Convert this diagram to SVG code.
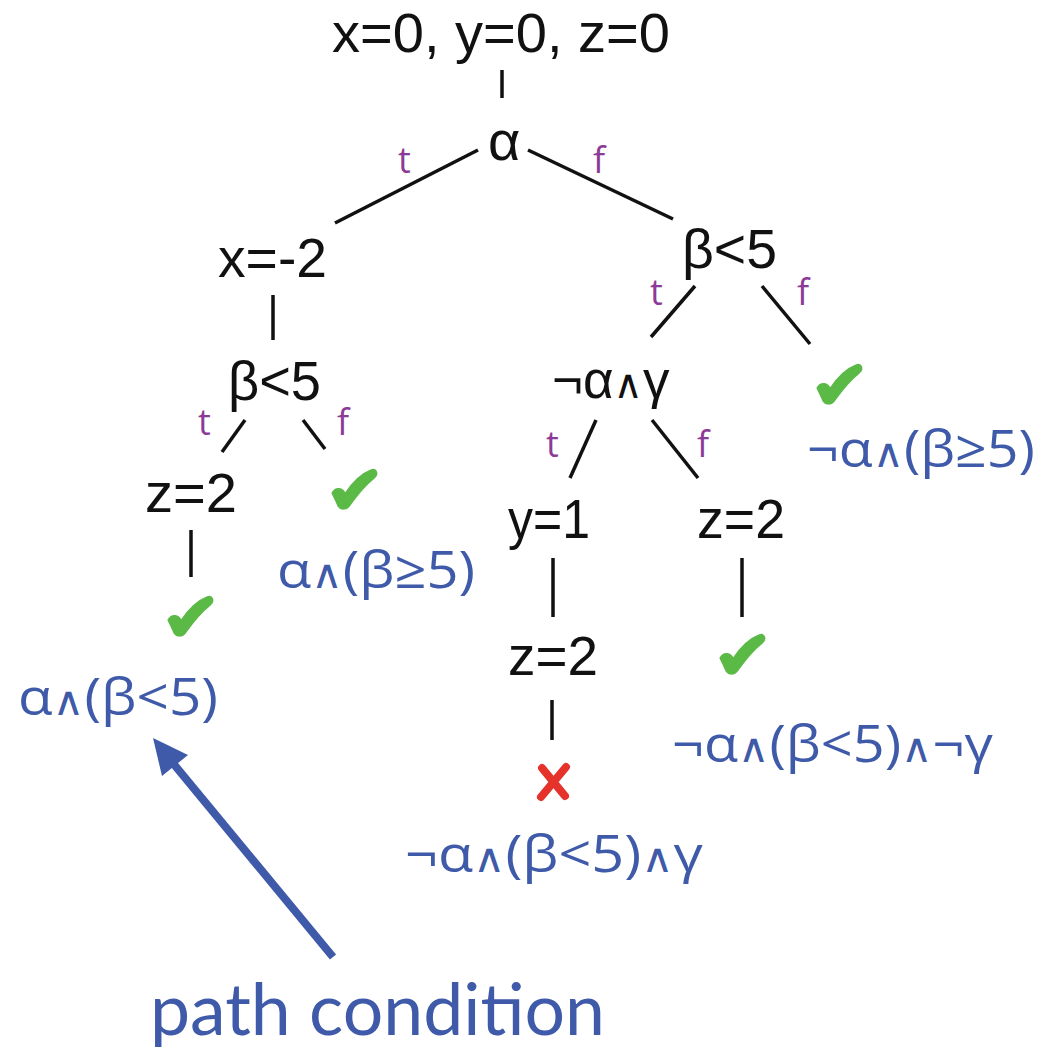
<svg xmlns="http://www.w3.org/2000/svg" width="1050" height="1051" viewBox="0 0 1050 1051">
<style>
.n{font-family:"Liberation Sans",Arial,"DejaVu Sans",sans-serif;font-size:56px;fill:#111}
.pc{font-family:"Open Sans","DejaVu Sans",sans-serif;font-size:52px;fill:#3f5aa9}
.tf{font-family:"Open Sans","DejaVu Sans",sans-serif;font-size:36px;fill:#8c3a97}
.cap{font-family:Lato,"Open Sans",sans-serif;font-size:72px;fill:#3f5aa9}
.w{font-size:40px}
.e{stroke:#111;stroke-width:3.5;fill:none;stroke-linecap:butt}
.ok{fill:#5bb946;stroke:#5bb946;stroke-width:3;stroke-linejoin:round}
.no{stroke:#e5322a;stroke-width:8;stroke-linecap:round;fill:none}
</style>
<defs>
<path id="chk" d="M1,23 C4,18 10,18 13,25 C21,13 31,4 39,1 C43,-1 46,3 42,7 C32,15 24,25 17,35 C14,39 9,39 7,36 C5,31 3,27 1,23 Z"/>
</defs>
<rect width="1050" height="1051" fill="#fff"/>
<g id="connectors">
<line class="e" x1="502" y1="70" x2="502" y2="98"/>
<line class="e" x1="478" y1="150" x2="335" y2="223"/>
<line class="e" x1="528" y1="150" x2="673" y2="219"/>
<line class="e" x1="273" y1="295" x2="273" y2="340"/>
<line class="e" x1="695" y1="286" x2="651" y2="337"/>
<line class="e" x1="762" y1="286" x2="810" y2="344"/>
<line class="e" x1="245" y1="420" x2="222" y2="452"/>
<line class="e" x1="303" y1="420" x2="325" y2="449"/>
<line class="e" x1="596" y1="420" x2="570" y2="478"/>
<line class="e" x1="652" y1="420" x2="698" y2="478"/>
<line class="e" x1="191" y1="530" x2="191" y2="577"/>
<line class="e" x1="553" y1="558" x2="553" y2="617"/>
<line class="e" x1="742" y1="558" x2="742" y2="617"/>
<line class="e" x1="552" y1="700" x2="552" y2="740"/>
</g>
<g id="edge-labels">
<text class="tf" x="398" y="173">t</text>
<text class="tf" x="593" y="173">f</text>
<text class="tf" x="650" y="305">t</text>
<text class="tf" x="797" y="305">f</text>
<text class="tf" x="198" y="435">t</text>
<text class="tf" x="337" y="435">f</text>
<text class="tf" x="546" y="457">t</text>
<text class="tf" x="697" y="457">f</text>
</g>
<g id="n-init"><text class="n" x="332" y="52" textLength="338" lengthAdjust="spacingAndGlyphs">x=0, y=0, z=0</text></g>
<g id="n-alpha"><text class="n" x="488" y="160">α</text></g>
<g id="n-x"><text class="n" x="218" y="277" textLength="109" lengthAdjust="spacingAndGlyphs">x=-2</text></g>
<g id="n-beta-r"><text class="n" x="682" y="268" textLength="95" lengthAdjust="spacingAndGlyphs">β&lt;5</text></g>
<g id="n-beta-l"><text class="n" x="228" y="400" textLength="93" lengthAdjust="spacingAndGlyphs">β&lt;5</text></g>
<g id="n-nag"><text class="n" x="552" y="398" style="font-size:53px">¬α<tspan class="w">∧</tspan>γ</text></g>
<g id="n-z-l"><text class="n" x="145" y="512" textLength="92" lengthAdjust="spacingAndGlyphs">z=2</text></g>
<g id="n-y"><text class="n" x="508" y="538" textLength="82" lengthAdjust="spacingAndGlyphs">y=1</text></g>
<g id="n-z-r"><text class="n" x="697" y="538" textLength="88" lengthAdjust="spacingAndGlyphs">z=2</text></g>
<g id="n-z-m"><text class="n" x="508" y="675" textLength="90" lengthAdjust="spacingAndGlyphs">z=2</text></g>
<g id="leaf-a">
<use href="#chk" class="ok" transform="translate(168,597)"/>
<text class="pc" x="18" y="715" textLength="200" lengthAdjust="spacingAndGlyphs">α<tspan class="w">∧</tspan>(β&lt;5)</text>
</g>
<g id="leaf-b">
<use href="#chk" class="ok" transform="translate(332,470)"/>
<text class="pc" x="277" y="588" textLength="198" lengthAdjust="spacingAndGlyphs">α<tspan class="w">∧</tspan>(β≥5)</text>
</g>
<g id="leaf-c">
<use href="#chk" class="ok" transform="translate(817,365)"/>
<text class="pc" x="807" y="467" textLength="228" lengthAdjust="spacingAndGlyphs">¬α<tspan class="w">∧</tspan>(β≥5)</text>
</g>
<g id="leaf-d">
<use href="#chk" class="ok" transform="translate(720,635)"/>
<text class="pc" x="672" y="762" textLength="321" lengthAdjust="spacingAndGlyphs">¬α<tspan class="w">∧</tspan>(β&lt;5)<tspan class="w">∧</tspan>¬γ</text>
</g>
<g id="leaf-e">
<path class="no" d="M542,768 L565,796 M566,767 L541,797"/>
<text class="pc" x="405" y="872" textLength="298" lengthAdjust="spacingAndGlyphs">¬α<tspan class="w">∧</tspan>(β&lt;5)<tspan class="w">∧</tspan>γ</text>
</g>
<g id="callout">
<line x1="333" y1="957" x2="172" y2="762" stroke="#3f5aa9" stroke-width="8"/>
<polygon points="153,738 188,755 162,776" fill="#3f5aa9"/>
<text class="cap" x="150" y="1035" textLength="455" lengthAdjust="spacingAndGlyphs">path condition</text>
</g>
</svg>
